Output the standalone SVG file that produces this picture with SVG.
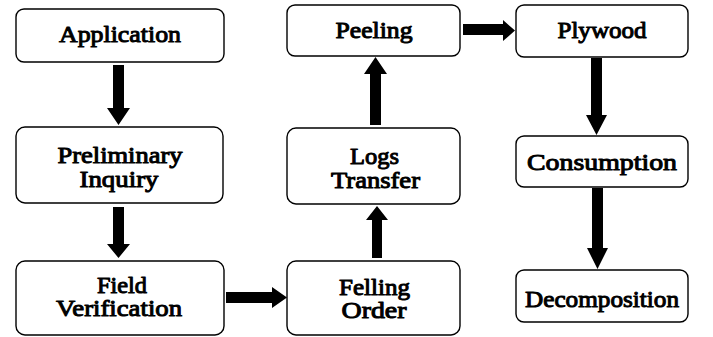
<svg xmlns="http://www.w3.org/2000/svg" width="713" height="337" viewBox="0 0 713 337">
<style>
.box{fill:#fff;stroke:#000;stroke-width:1.4}
.t{font-family:'Liberation Serif','Times New Roman',serif;font-weight:400;font-size:24px;text-anchor:middle;fill:#000;stroke:#000;stroke-width:1;stroke-linejoin:round}
.arr{fill:#000}
</style>
<rect width="713" height="337" fill="#fff"/>
<g id="connectors">
<polygon class="arr" points="113,65 124,65 124,108 130,108 118.5,125 107,108 113,108"/>
<polygon class="arr" points="113,207 124,207 124,244 130,244 118.5,258 107,244 113,244"/>
<polygon class="arr" points="226,292 272,292 272,287 287,297.5 272,308 272,303 226,303"/>
<polygon class="arr" points="372,258 382,258 382,220 388,220 377,206 366,220 372,220"/>
<polygon class="arr" points="370,125 381,125 381,74 387,74 375.5,57 364,74 370,74"/>
<polygon class="arr" points="463,24 503,24 503,20 515,30.5 503,41 503,35 463,35"/>
<polygon class="arr" points="591,58 602,58 602,115 607,115 596.5,135 586,115 591,115"/>
<polygon class="arr" points="592,188 603,188 603,248 608,248 597.5,269 587,248 592,248"/>
</g>
<g id="application">
<rect class="box" x="16" y="9" width="208" height="53" rx="8"/>
<text class="t" x="120" y="42" textLength="122" lengthAdjust="spacingAndGlyphs">Application</text>
</g>
<g id="preliminary">
<rect class="box" x="16" y="127" width="207" height="76" rx="9"/>
<text class="t" x="120" y="163" textLength="125" lengthAdjust="spacingAndGlyphs">Preliminary</text>
<text class="t" x="119" y="187" textLength="79" lengthAdjust="spacingAndGlyphs">Inquiry</text>
</g>
<g id="field">
<rect class="box" x="16" y="261" width="208" height="74" rx="9"/>
<text class="t" x="122" y="293" textLength="50" lengthAdjust="spacingAndGlyphs">Field</text>
<text class="t" x="119" y="316" textLength="126" lengthAdjust="spacingAndGlyphs">Verification</text>
</g>
<g id="felling">
<rect class="box" x="287" y="261" width="173" height="74" rx="9"/>
<text class="t" x="374.5" y="295" textLength="71" lengthAdjust="spacingAndGlyphs">Felling</text>
<text class="t" x="374" y="318" textLength="65" lengthAdjust="spacingAndGlyphs">Order</text>
</g>
<g id="logs">
<rect class="box" x="287" y="128" width="173" height="76" rx="9"/>
<text class="t" x="374.5" y="164" textLength="49" lengthAdjust="spacingAndGlyphs">Logs</text>
<text class="t" x="375.5" y="188" textLength="89" lengthAdjust="spacingAndGlyphs">Transfer</text>
</g>
<g id="peeling">
<rect class="box" x="287" y="5" width="173" height="51" rx="8"/>
<text class="t" x="374" y="38" textLength="77" lengthAdjust="spacingAndGlyphs">Peeling</text>
</g>
<g id="plywood">
<rect class="box" x="516" y="5" width="172" height="52" rx="8"/>
<text class="t" x="602" y="38" textLength="89" lengthAdjust="spacingAndGlyphs">Plywood</text>
</g>
<g id="consumption">
<rect class="box" x="516" y="136" width="172" height="51" rx="8"/>
<text class="t" x="602" y="170" textLength="150" lengthAdjust="spacingAndGlyphs">Consumption</text>
</g>
<g id="decomposition">
<rect class="box" x="516" y="270" width="172" height="52" rx="8"/>
<text class="t" x="602" y="307" textLength="154" lengthAdjust="spacingAndGlyphs">Decomposition</text>
</g>
</svg>
